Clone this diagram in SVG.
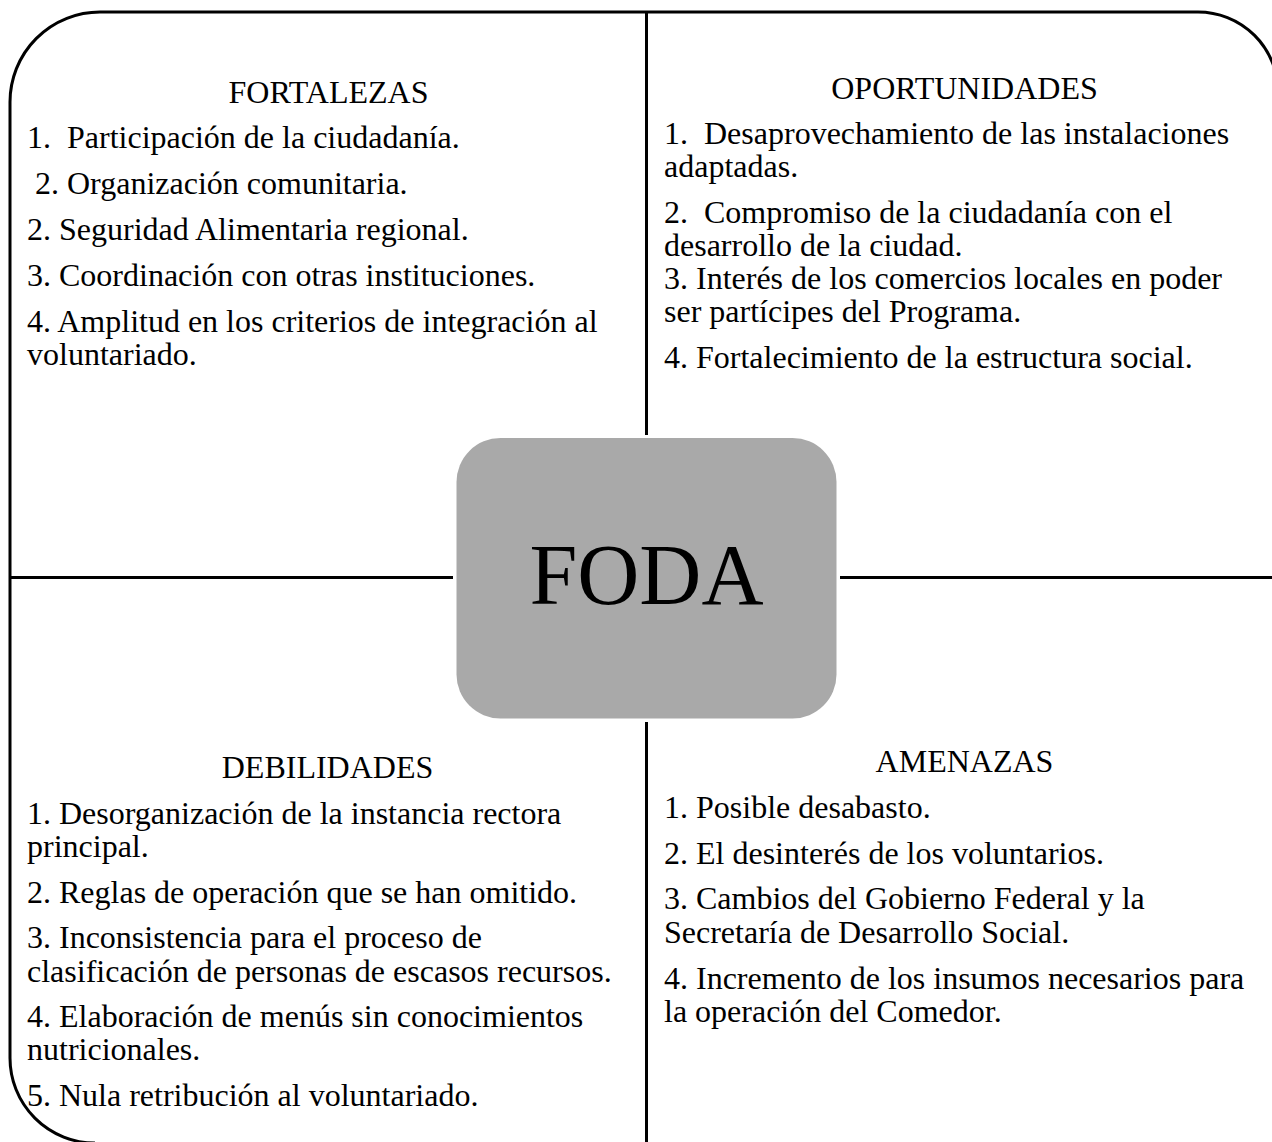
<svg xmlns="http://www.w3.org/2000/svg" width="1272" height="1142" viewBox="0 0 1272 1142">
  <style>
    .t { font-family: "Liberation Serif", "Times New Roman", serif; font-size: 32px; fill: #000; white-space: pre; }
    .h { text-anchor: middle; }
    .line { stroke: #000; stroke-width: 3; fill: none; }
    .center-label { font-family: "Liberation Serif", "Times New Roman", serif; font-size: 86px; fill: #000; text-anchor: middle; }
  </style>
  <rect width="1272" height="1142" fill="#fff"/>

  <g id="frame">
    <path class="line" d="M 1278 1143 L 1278 172 L 1278 92 A 80 80 0 0 0 1198 12 L 100 12 A 90 90 0 0 0 10 102 L 10 1058 A 85 85 0 0 0 95 1143"/>
  </g>

  <g id="connectors">
    <line class="line" x1="646.5" y1="12" x2="646.5" y2="435"/>
    <line class="line" x1="646.5" y1="722" x2="646.5" y2="1142"/>
    <line class="line" x1="10" y1="577.5" x2="453" y2="577.5"/>
    <line class="line" x1="840" y1="577.5" x2="1278" y2="577.5"/>
  </g>

  <g id="fortalezas">
    <text class="t h" x="328.5" y="103">FORTALEZAS</text>
    <text class="t" x="27" y="147.5" xml:space="preserve">1.  Participación de la ciudadanía.</text>
    <text class="t" x="27" y="193.5" xml:space="preserve"> 2. Organización comunitaria.</text>
    <text class="t" x="27" y="240">2. Seguridad Alimentaria regional.</text>
    <text class="t" x="27" y="286">3. Coordinación con otras instituciones.</text>
    <text class="t" x="27" y="332">4. Amplitud en los criterios de integración al</text>
    <text class="t" x="27" y="365">voluntariado.</text>
  </g>

  <g id="oportunidades">
    <text class="t h" x="964.5" y="98.5">OPORTUNIDADES</text>
    <text class="t" x="664" y="143.5" xml:space="preserve">1.  Desaprovechamiento de las instalaciones</text>
    <text class="t" x="664" y="177">adaptadas.</text>
    <text class="t" x="664" y="222.5" xml:space="preserve">2.  Compromiso de la ciudadanía con el</text>
    <text class="t" x="664" y="255.5">desarrollo de la ciudad.</text>
    <text class="t" x="664" y="289">3. Interés de los comercios locales en poder</text>
    <text class="t" x="664" y="322">ser partícipes del Programa.</text>
    <text class="t" x="664" y="367.5">4. Fortalecimiento de la estructura social.</text>
  </g>

  <g id="debilidades">
    <text class="t h" x="327.5" y="778">DEBILIDADES</text>
    <text class="t" x="27" y="823.5">1. Desorganización de la instancia rectora</text>
    <text class="t" x="27" y="857">principal.</text>
    <text class="t" x="27" y="903">2. Reglas de operación que se han omitido.</text>
    <text class="t" x="27" y="948">3. Inconsistencia para el proceso de</text>
    <text class="t" x="27" y="981.5">clasificación de personas de escasos recursos.</text>
    <text class="t" x="27" y="1027">4. Elaboración de menús sin conocimientos</text>
    <text class="t" x="27" y="1060">nutricionales.</text>
    <text class="t" x="27" y="1106">5. Nula retribución al voluntariado.</text>
  </g>

  <g id="amenazas">
    <text class="t h" x="964.5" y="772">AMENAZAS</text>
    <text class="t" x="664" y="817.5">1. Posible desabasto.</text>
    <text class="t" x="664" y="863.5">2. El desinterés de los voluntarios.</text>
    <text class="t" x="664" y="909">3. Cambios del Gobierno Federal y la</text>
    <text class="t" x="664" y="942.5">Secretaría de Desarrollo Social.</text>
    <text class="t" x="664" y="988.5">4. Incremento de los insumos necesarios para</text>
    <text class="t" x="664" y="1021.5">la operación del Comedor.</text>
  </g>

  <g id="foda">
    <rect x="456.5" y="438" width="380" height="280.5" rx="44" ry="44" fill="#a9a9a9"/>
    <text class="center-label" x="646.5" y="604">FODA</text>
  </g>
</svg>
